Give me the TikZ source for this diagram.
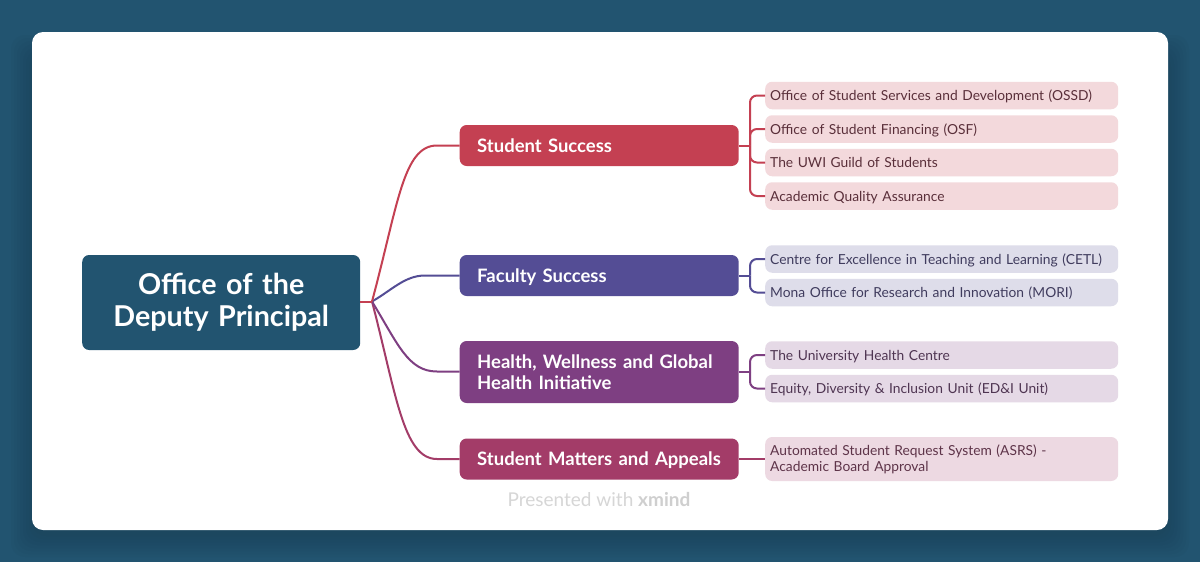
\documentclass[tikz,border=0pt]{standalone}
\usepackage{fontspec}
\setmainfont{Lato}
\newfontfamily\topicfont[WordSpace=0.8]{Lato}
\definecolor{bgc}{HTML}{225470}
\definecolor{shc}{HTML}{1C3A4C}
\definecolor{cA}{HTML}{C44052}
\definecolor{cB}{HTML}{544D95}
\definecolor{cC}{HTML}{7E3F82}
\definecolor{cD}{HTML}{A33C68}
\definecolor{lA}{HTML}{F3D9DC}
\definecolor{lB}{HTML}{DEDDEA}
\definecolor{lC}{HTML}{E5D9E6}
\definecolor{lD}{HTML}{EDD9E2}
\definecolor{tA}{HTML}{5A2F3A}
\definecolor{tB}{HTML}{403C5E}
\definecolor{tC}{HTML}{4F3552}
\definecolor{tD}{HTML}{5E3449}
\tikzset{
  x=1pt,y=-1pt,
  rootbox/.style={fill=bgc,rounded corners=7pt,text width=278pt,minimum height=95pt,inner sep=0pt,text=white,font=\topicfont\fontsize{28.7}{40}\selectfont\bfseries,align=center,anchor=west,execute at begin node={\vspace*{-8pt}}},
  topic/.style={rounded corners=7pt,inner ysep=0pt,inner xsep=8.5pt,text=white,text width=262pt,font=\topicfont\fontsize{18.5}{24}\selectfont\bfseries,align=left,anchor=west,execute at begin node={\leftskip=9pt\relax\vspace*{-3pt}}},
  leaf/.style={rounded corners=7pt,minimum height=27.5pt,inner ysep=0pt,inner xsep=5pt,text width=343pt,font=\fontsize{13.8}{19}\selectfont,align=left,anchor=west,execute at begin node={\vspace*{-3pt}}},
  link/.style={line width=2pt,rounded corners=7pt},
  curve/.style={line width=2pt},
}
\begin{document}
\begin{tikzpicture}
\useasboundingbox (0,0) rectangle (1200,562);
\fill[bgc] (0,0) rectangle (1200,562);
% soft shadow of the card
\foreach \g in {21,18,15,12,9,6,3,0}{
  \fill[shc,opacity=0.06,rounded corners=14pt] (32-\g,32-\g+24) rectangle (1168+\g,530+\g+6);
}
\fill[white,rounded corners=11pt] (32,32) rectangle (1168,530);

\node[rootbox] (root) at (82,302.5) {Office of the\\Deputy Principal};

\node[topic,fill=cA,minimum height=41pt] (ss) at (459.5,145.5) {Student Success};
\node[topic,fill=cB,minimum height=41pt] (fs) at (459.5,275.5) {Faculty Success};
\node[topic,fill=cC,minimum height=62pt] (hw) at (459.5,372) {Health, Wellness and Global\\Health Initiative};
\node[topic,fill=cD,minimum height=41pt] (sm) at (459.5,459) {Student Matters and Appeals};

\node[leaf,fill=lA,text=tA] (a1) at (765,95.5) {Office of Student Services and Development (OSSD)};
\node[leaf,fill=lA,text=tA] (a2) at (765,129) {Office of Student Financing (OSF)};
\node[leaf,fill=lA,text=tA] (a3) at (765,162.5) {The UWI Guild of Students};
\node[leaf,fill=lA,text=tA] (a4) at (765,196) {Academic Quality Assurance};
\node[leaf,fill=lB,text=tB] (b1) at (765,259) {Centre for Excellence in Teaching and Learning (CETL)};
\node[leaf,fill=lB,text=tB] (b2) at (765,292.5) {Mona Office for Research and Innovation (MORI)};
\node[leaf,fill=lC,text=tC] (c1) at (765,355) {The University Health Centre};
\node[leaf,fill=lC,text=tC] (c2) at (765,388.5) {Equity, Diversity \& Inclusion Unit (ED\&I Unit)};
\node[leaf,fill=lD,text=tD,minimum height=44pt] (d1) at (765,459) {Automated Student Request System (ASRS) -\\Academic Board Approval};

\coordinate (hub) at (372,301.5);
\coordinate (ja) at (750,145.5);
\coordinate (jb) at (750,275.5);
\coordinate (jc) at (750,372);

% root to topics
\draw[curve,cD] (hub) .. controls (396,393) and (403,459) .. (437,459) -- (sm.west);
\draw[curve,cC] (hub) .. controls (398,344) and (408,371.5) .. (437,371.5) -- (hw.west |- 0,371.5);
\draw[curve,cB] (hub) .. controls (392,290) and (405,275.5) .. (425,275.5) -- (fs.west);
\draw[curve,cA] (hub) .. controls (398,205) and (403,145.5) .. (437,145.5) -- (ss.west);
\draw[curve,cA] (root.east |- hub) -- (hub);

% topics to leaves
\draw[curve,cA] (ss.east) -- (ja);
\draw[link,cA] (ja) |- (a1.west);
\draw[link,cA] (ja) |- (a2.west);
\draw[link,cA] (ja) |- (a3.west);
\draw[link,cA] (ja) |- (a4.west);
\draw[curve,cB] (fs.east) -- (jb);
\draw[link,cB] (jb) |- (b1.west);
\draw[link,cB] (jb) |- (b2.west);
\draw[curve,cC] (hw.east) -- (jc);
\draw[link,cC] (jc) |- (c1.west);
\draw[link,cC] (jc) |- (c2.west);
\draw[curve,cD] (sm.east) -- (d1.west);

\node[anchor=center,inner sep=0pt,font=\fontsize{19}{20}\selectfont] (brand) at (599,500) {\textcolor[HTML]{D6D6D6}{Presented with} \textcolor[HTML]{CFCFCF}{\bfseries xmind}};
\end{tikzpicture}
\end{document}
